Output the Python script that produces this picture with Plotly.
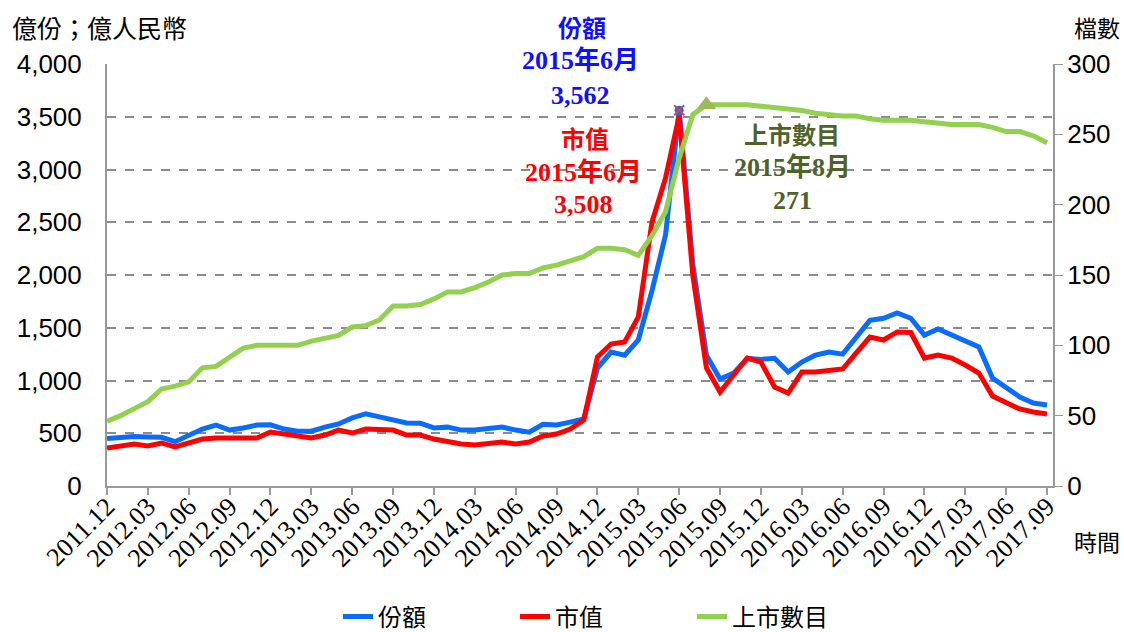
import pandas as pd
import plotly.graph_objects as go

months = [p.strftime("%Y.%m") for p in pd.period_range("2011-12", "2017-09", freq="M")]

tick_labels = ["2011.12", "2012.03", "2012.06", "2012.09", "2012.12", "2013.03", "2013.06",
               "2013.09", "2013.12", "2014.03", "2014.06", "2014.09", "2014.12", "2015.03",
               "2015.06", "2015.09", "2015.12", "2016.03", "2016.06", "2016.09", "2016.12",
               "2017.03", "2017.06", "2017.09"]

units = [450, 462, 470, 465, 462, 420, 485, 540, 578, 530, 550, 578, 580, 540, 520, 520,
         558, 588, 645, 685, 655, 632, 598, 595, 550, 558, 530, 530, 540, 558, 530, 510,
         585, 578, 605, 635, 1118, 1270, 1240, 1384, 1850, 2380, 3562, 2100, 1240, 1014,
         1070, 1210, 1200, 1210, 1080, 1175, 1240, 1270, 1250, 1412, 1570, 1590, 1640, 1590,
         1430, 1488, 1430, 1374, 1318, 1023, 938, 844, 787, 768]

mktval = [360, 379, 398, 379, 408, 370, 408, 445, 455, 455, 465, 455, 512, 493, 474, 455,
          483, 530, 502, 540, 535, 530, 483, 483, 445, 417, 398, 389, 398, 417, 398, 417,
          474, 493, 540, 625, 1223, 1346, 1365, 1602, 2500, 2920, 3508, 2000, 1120, 891,
          1052, 1213, 1175, 938, 881, 1080, 1080, 1090, 1109, 1261, 1412, 1384, 1460, 1455,
          1213, 1242, 1213, 1147, 1071, 853, 796, 730, 701, 682]

listed = [46, 50, 55, 60, 69, 71, 74, 84, 85, 92, 98, 100, 100, 100, 100, 103, 105, 107,
          113, 114, 118, 128, 128, 129, 133, 138, 138, 141, 145, 150, 151, 151, 155, 157,
          160, 163, 169, 169, 168, 164, 178, 195, 233, 264, 271, 271, 271, 271, 270, 269,
          268, 267, 265, 264, 263, 263, 261, 260, 260, 260, 259, 258, 257, 257, 257, 255,
          252, 252, 249, 244]

BLUE = "#0A6CFF"
RED = "#FF0000"
GREEN = "#92D050"
SERIF = "Liberation Serif, Noto Sans CJK TC"
CJK = "Noto Sans CJK TC"

fig = go.Figure()
fig.add_trace(go.Scatter(x=months, y=units, name="份額", mode="lines",
                         line=dict(color=BLUE, width=5)))
fig.add_trace(go.Scatter(x=months, y=mktval, name="市值", mode="lines",
                         line=dict(color=RED, width=5)))
fig.add_trace(go.Scatter(x=months, y=listed, name="上市數目", mode="lines",
                         line=dict(color=GREEN, width=5), yaxis="y2"))

# peak markers
iu = units.index(max(units))
im = mktval.index(max(mktval))
il = listed.index(max(listed))
fig.add_trace(go.Scatter(x=[months[iu]], y=[units[iu]], mode="markers", showlegend=False,
                         marker=dict(color=BLUE, size=9), cliponaxis=False))
fig.add_trace(go.Scatter(x=[months[im]], y=[units[iu]], mode="markers", showlegend=False,
                         marker=dict(color="#C0504D", size=10, symbol="x-thin",
                                     line=dict(color="#C0504D", width=2)), cliponaxis=False))
fig.add_trace(go.Scatter(x=[months[il]], y=[listed[il]], mode="markers", showlegend=False,
                         marker=dict(color="#9BBB59", size=17, symbol="triangle-up"),
                         yaxis="y2", cliponaxis=False))

W, H = 1124, 632
L, T = 107, 64
pw, ph = 946, 422
R, B = W - L - pw, H - T - ph

def px(xp):  # page pixel x -> paper
    return (xp - L) / pw

def py(yp):  # page pixel y -> paper
    return (T + ph - yp) / ph

fig.update_layout(
    width=W, height=H,
    margin=dict(l=L, r=R, t=T, b=B, autoexpand=False),
    paper_bgcolor="white", plot_bgcolor="white",
    font=dict(family="Liberation Sans, " + CJK, size=22, color="#000000"),
    xaxis=dict(type="category", range=[0, 69.44], tickmode="array",
               tickvals=tick_labels, ticktext=tick_labels, tickangle=-45,
               tickfont=dict(family="Liberation Serif", size=26),
               showgrid=False, showline=True, linecolor="#999999", linewidth=2,
               ticks="outside", ticklen=7, tickcolor="#999999", tickwidth=1.5,
               ticklabelstandoff=-14, automargin=False),
    yaxis=dict(range=[0, 4000], dtick=500, tickformat=",", showgrid=True,
               gridcolor="#8C8C8C", griddash="dash", gridwidth=1.5,
               showline=True, linecolor="#999999", linewidth=2, ticks="",
               tickfont=dict(size=26), ticklabelstandoff=18, zeroline=False,
               automargin=False),
    yaxis2=dict(range=[0, 300], dtick=50, overlaying="y", side="right", showgrid=False,
                showline=True, linecolor="#999999", linewidth=2, ticks="outside",
                ticklen=8, tickcolor="#999999", tickfont=dict(size=26), zeroline=False,
                ticklabelstandoff=-1, automargin=False),
    legend=dict(orientation="h", x=px(338), xanchor="left", y=py(617), yanchor="middle",
                font=dict(family=CJK, size=24), entrywidth=132, entrywidthmode="pixels",
                tracegroupgap=0),
    showlegend=True,
)

ann = [
    ("億份；億人民幣", 10, 27, "left", "#000000", False, CJK, 25),
    ("檔數", 1122, 27, "right", "#000000", False, CJK, 23),
    ("時間", 1122, 541, "right", "#000000", False, CJK, 23),
    ("份額", 582, 27, "center", "#1010FF", True, CJK, 24),
    ("2015年6月", 580, 61, "center", "#1010FF", True, SERIF, 26),
    ("3,562", 580, 95, "center", "#1010FF", True, SERIF, 26),
    ("市值", 585, 137, "center", "#FF0000", True, CJK, 24),
    ("2015年6月", 583, 172, "center", "#FF0000", True, SERIF, 26),
    ("3,508", 583, 205, "center", "#FF0000", True, SERIF, 26),
    ("上市數目", 792, 133, "center", "#4F6228", True, CJK, 24),
    ("2015年8月", 792, 167, "center", "#4F6228", True, SERIF, 26),
    ("271", 792, 200, "center", "#4F6228", True, SERIF, 26),
]
for text, xp, yp, anchor, color, bold, fam, size in ann:
    fig.add_annotation(text=f"<b>{text}</b>" if bold else text, x=px(xp), y=py(yp),
                       xref="paper", yref="paper", xanchor=anchor, yanchor="middle",
                       showarrow=False, font=dict(family=fam, size=size, color=color))

fig.write_html("out.html", config={"displayModeBar": False},
               post_script="document.body.style.margin='0';document.body.style.overflow='hidden';")
